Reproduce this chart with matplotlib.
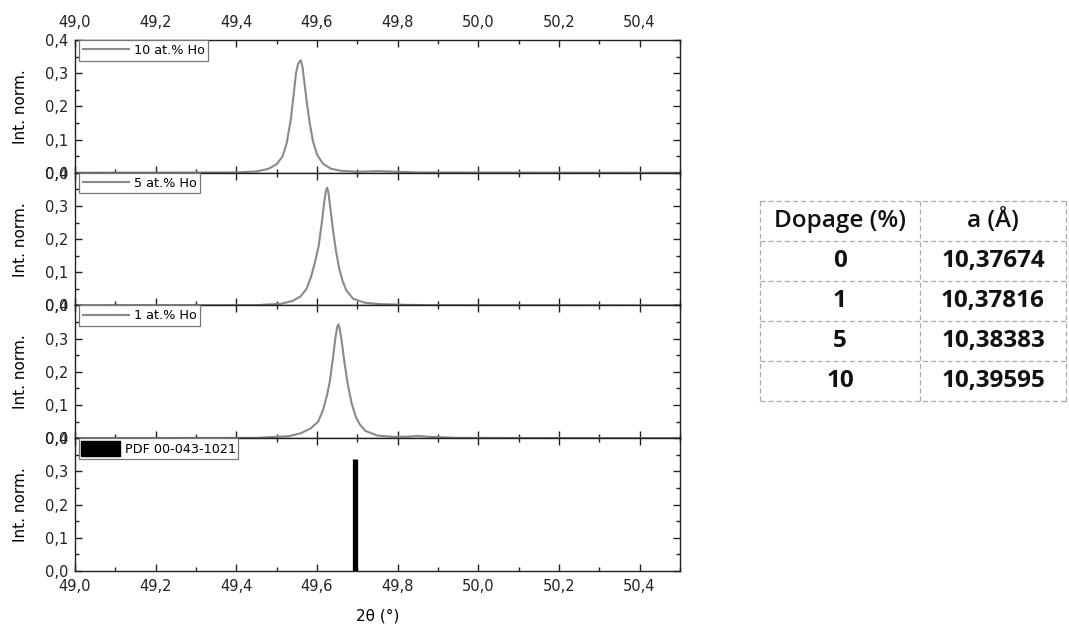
import numpy as np
import matplotlib.pyplot as plt
from matplotlib.ticker import MultipleLocator, FuncFormatter
from matplotlib.patches import Patch

# XRD profiles (2theta in degrees, normalised intensity)
x_10 = [49.00, 49.40, 49.45, 49.48, 49.50, 49.515, 49.525, 49.535, 49.542, 49.548,
        49.553, 49.557, 49.560, 49.564, 49.569, 49.575, 49.582, 49.590, 49.600,
        49.615, 49.635, 49.660, 49.700, 49.750, 49.800, 49.850, 50.50]
y_10 = [0.000, 0.001, 0.004, 0.012, 0.026, 0.050, 0.090, 0.160, 0.235, 0.300,
        0.327, 0.336, 0.339, 0.320, 0.270, 0.210, 0.150, 0.095, 0.055,
        0.027, 0.012, 0.006, 0.003, 0.005, 0.003, 0.001, 0.000]

x_5 = [49.00, 49.45, 49.51, 49.54, 49.56, 49.574, 49.585, 49.595, 49.604, 49.612,
       49.618, 49.622, 49.625, 49.628, 49.633, 49.640, 49.647, 49.655, 49.664,
       49.673, 49.690, 49.720, 49.760, 49.820, 49.880, 50.50]
y_5 = [0.000, 0.001, 0.005, 0.014, 0.028, 0.050, 0.085, 0.130, 0.178, 0.250,
       0.312, 0.345, 0.355, 0.343, 0.295, 0.225, 0.165, 0.112, 0.072,
       0.045, 0.020, 0.008, 0.004, 0.002, 0.001, 0.000]

x_1 = [49.00, 49.45, 49.53, 49.56, 49.585, 49.603, 49.615, 49.625, 49.632, 49.640,
       49.646, 49.650, 49.653, 49.656, 49.661, 49.668, 49.676, 49.686, 49.696,
       49.706, 49.720, 49.750, 49.790, 49.830, 49.850, 49.880, 49.950, 50.50]
y_1 = [0.000, 0.001, 0.006, 0.015, 0.030, 0.050, 0.085, 0.130, 0.172, 0.245,
       0.305, 0.334, 0.343, 0.333, 0.295, 0.230, 0.165, 0.105, 0.065,
       0.042, 0.022, 0.008, 0.004, 0.005, 0.007, 0.004, 0.001, 0.000]

pdf_pos = [49.695]
pdf_int = [0.336]

labels = ["10 at.% Ho", "5 at.% Ho", "1 at.% Ho"]
curves = [(x_10, y_10), (x_5, y_5), (x_1, y_1)]

# lattice parameter table
dopage = ["0", "1", "5", "10"]
a_param = ["10,37674", "10,37816", "10,38383", "10,39595"]

plt.rcParams['font.family'] = ['DejaVu Sans']
fig = plt.figure(figsize=(10.69, 6.26), dpi=100)
gs = fig.add_gridspec(4, 1, left=0.0702, right=0.636, top=0.936, bottom=0.088, hspace=0)
axes = [fig.add_subplot(gs[i]) for i in range(4)]

comma = FuncFormatter(lambda v, p: f"{v:.1f}".replace('.', ','))
line_col = '#8a8a8a'
leg_kw = dict(loc='upper left', bbox_to_anchor=(0.006, 1.0), borderaxespad=0,
              fancybox=False, edgecolor='#777777', framealpha=1, fontsize=9.2)

for i, ax in enumerate(axes):
    if i < 3:
        xs, ys = curves[i]
        ax.plot(xs, ys, color=line_col, lw=1.5, label=labels[i])
        leg = ax.legend(handlelength=3.6, borderpad=0.3, handletextpad=0.4, **leg_kw)
    else:
        ax.vlines(pdf_pos, 0, pdf_int, color='black', lw=3.8)
        handle = Patch(facecolor='black', edgecolor='black')
        leg = ax.legend([handle], ["PDF 00-043-1021"], handlelength=3.0,
                        handleheight=1.5, borderpad=0.2, handletextpad=0.4, **leg_kw)
    leg.get_frame().set_linewidth(0.9)
    ax.set_xlim(49.0, 50.5)
    ax.set_ylim(0, 0.4)
    ax.xaxis.set_major_locator(MultipleLocator(0.2))
    ax.xaxis.set_minor_locator(MultipleLocator(0.1))
    ax.yaxis.set_major_locator(MultipleLocator(0.1))
    ax.yaxis.set_minor_locator(MultipleLocator(0.05))
    ax.xaxis.set_major_formatter(comma)
    ax.yaxis.set_major_formatter(comma)
    ax.tick_params(which='both', direction='in', top=True, right=True,
                   labelsize=10.5, colors='#222222', width=1.0)
    ax.tick_params(which='major', length=5)
    ax.tick_params(which='minor', length=3)
    ax.tick_params(axis='y', pad=5)
    ax.tick_params(axis='x', pad=6)
    for s in ax.spines.values():
        s.set_linewidth(1.0)
        s.set_color('#222222')
    ax.set_ylabel("Int. norm.", fontsize=11, labelpad=12)
    if i == 0:
        ax.tick_params(labeltop=True, labelbottom=False)
        ax.tick_params(axis='x', pad=7)
    elif i < 3:
        ax.tick_params(labelbottom=False)

axes[-1].set_xlabel("2θ (°)", fontsize=11, labelpad=10)

# table on the right
tax = fig.add_axes([0, 0, 1, 1])
tax.set_xlim(0, 1069)
tax.set_ylim(626, 0)
tax.axis('off')
x_left, x_mid, x_right = 760, 920, 1066
y_top, row_h = 201, 40
n_rows = len(dopage) + 1
dash = dict(color='#aaaaaa', lw=0.9, ls=(0, (4, 2.5)))
for r in range(n_rows + 1):
    y = y_top + r * row_h
    tax.plot([x_left, x_right], [y, y], **dash)
for xv in (x_left, x_mid, x_right):
    tax.plot([xv, xv], [y_top, y_top + n_rows * row_h], **dash)

cx1 = (x_left + x_mid) / 2
cx2 = (x_mid + x_right) / 2
tfont = dict(family='Open Sans', fontsize=17.5, ha='center', va='center', color='#111111')
tax.text(cx1, y_top + row_h / 2, "Dopage (%)", fontweight='semibold', **tfont)
tax.text(cx2, y_top + row_h / 2, "a (Å)", fontweight='semibold', **tfont)
for k, (d, a) in enumerate(zip(dopage, a_param)):
    yc = y_top + (k + 1.5) * row_h
    tax.text(cx1, yc, d, fontweight='bold', **tfont)
    tax.text(cx2, yc, a, fontweight='bold', **tfont)

fig.savefig("out.png", dpi=100)
